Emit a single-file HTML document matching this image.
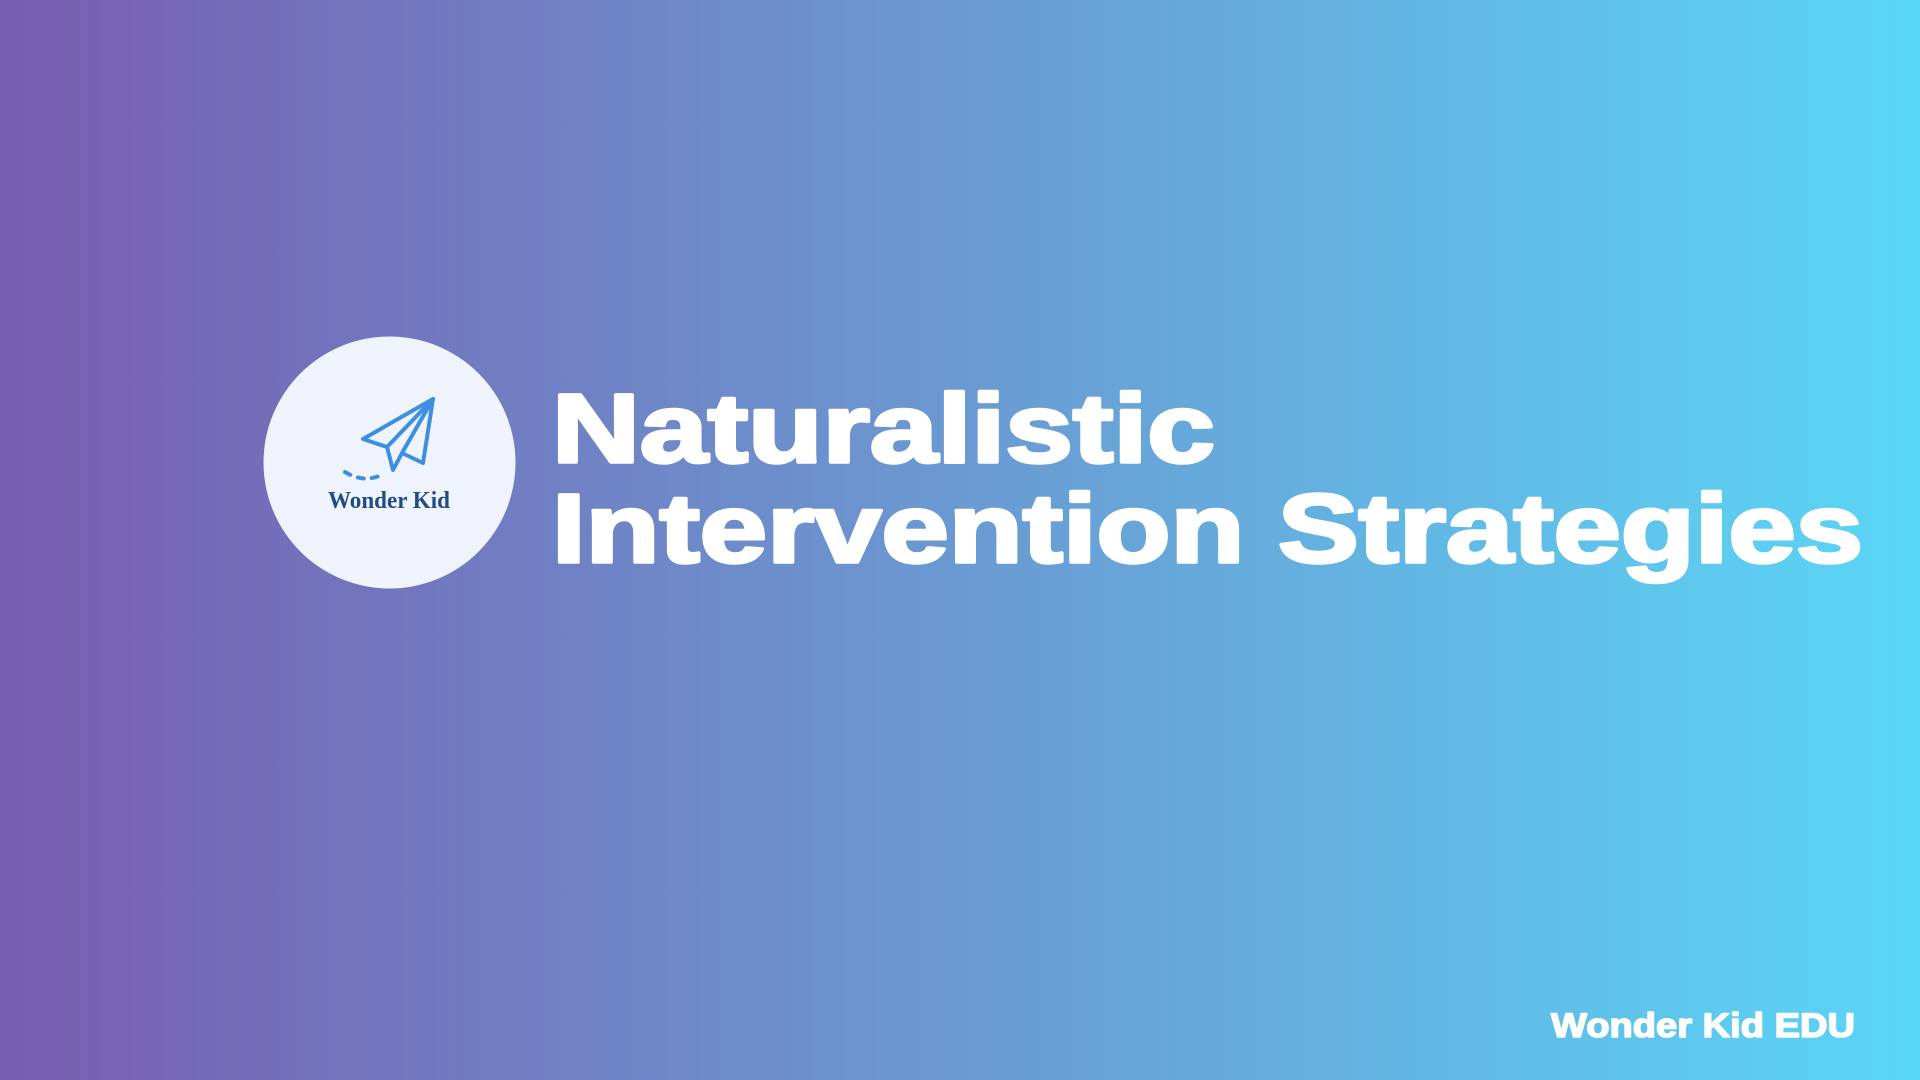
<!DOCTYPE html>
<html><head><meta charset="utf-8"><style>
html,body{margin:0;padding:0;width:1920px;height:1080px;overflow:hidden}
svg{display:block}
</style></head><body>
<svg width="1920" height="1080" viewBox="0 0 1920 1080">
<defs><linearGradient id="bg" x1="0" y1="0" x2="1" y2="0">
<stop offset="0" stop-color="#785db0"/><stop offset="0.5" stop-color="#6a9ad2"/><stop offset="1" stop-color="#5ad6f7"/>
</linearGradient></defs>
<rect width="1920" height="1080" fill="url(#bg)"/>
<g>
<circle cx="389.5" cy="462.5" r="126" fill="#eff3fb"/>
<g fill="none" stroke="#3d8fe0" stroke-width="4" stroke-linejoin="round" stroke-linecap="round">
<path d="M433 399 L363 439 L387 447 L393 470 L402 453 L423 463 Z"/>
<path d="M433 399 L387 447"/>
<path d="M433 399 L402 453"/>
<path d="M345 472 Q365 484 383 474" stroke-dasharray="6 8"/>
</g>
<text x="389" y="508" text-anchor="middle" font-family="Liberation Serif, serif" font-weight="bold" font-size="24" fill="#1f4e86" textLength="122" lengthAdjust="spacingAndGlyphs">Wonder Kid</text>
</g>
<g font-family="Liberation Sans, sans-serif" font-weight="bold" fill="#ffffff" stroke="#ffffff" stroke-linejoin="round">
<text x="552" y="462" font-size="97" stroke-width="3.5" textLength="663" lengthAdjust="spacingAndGlyphs">Naturalistic</text>
<text x="552" y="562" font-size="97" stroke-width="3.5" textLength="1311" lengthAdjust="spacingAndGlyphs">Intervention Strategies</text>
<text x="1551" y="1037" font-size="34" stroke-width="1.5" textLength="304" lengthAdjust="spacingAndGlyphs">Wonder Kid EDU</text>
</g>
</svg>
</body></html>
